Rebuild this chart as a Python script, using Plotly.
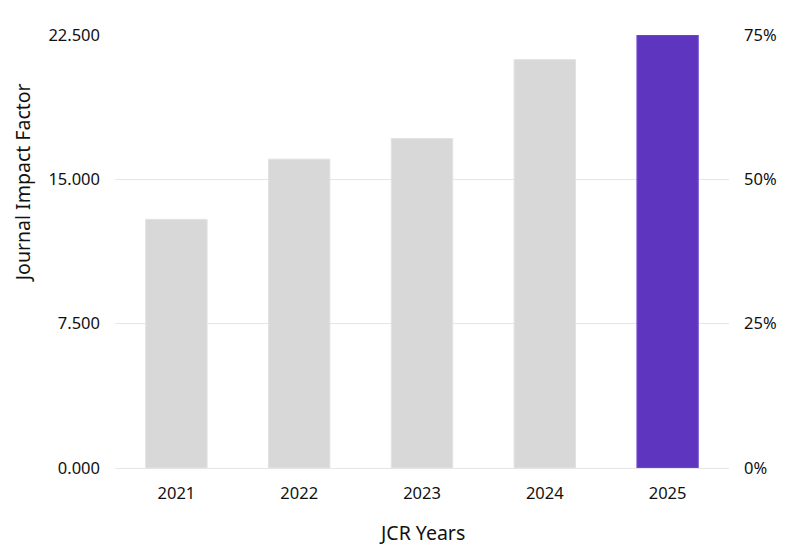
import plotly.graph_objects as go

years = ["2021", "2022", "2023", "2024", "2025"]
jif = [12.92, 16.05, 17.12, 21.22, 22.5]
bar_colors = ["#d8d8d8", "#d8d8d8", "#d8d8d8", "#d8d8d8", "#5e35bf"]
line_colors = ["#e2e2e2", "#e2e2e2", "#e2e2e2", "#e2e2e2", "#7a55d6"]
left_ticks = [0, 7.5, 15, 22.5]
right_ticks = [0, 0.25, 0.5, 0.75]

FONT = "Noto Sans"

fig = go.Figure()
fig.add_trace(go.Bar(
    x=years, y=jif, width=0.5,
    marker=dict(color=bar_colors, line=dict(color=line_colors, width=1)),
    showlegend=False, hoverinfo="x+y",
))
fig.add_trace(go.Scatter(
    x=years, y=[None] * len(years), yaxis="y2",
    showlegend=False, hoverinfo="skip", mode="markers",
))

fig.update_layout(
    width=794, height=551,
    margin=dict(l=115, r=65, t=35, b=83),
    paper_bgcolor="white", plot_bgcolor="white",
    font=dict(family=FONT, size=16.5, color="#111111"),
    bargap=0.5,
    xaxis=dict(
        showgrid=False, zeroline=False, showline=False,
        ticks="", ticklabelstandoff=13,
    ),
    yaxis=dict(
        range=[0, 22.5], tickvals=left_ticks, tickformat=".3f",
        showgrid=True, gridcolor="#e6e6e6", gridwidth=1,
        zeroline=True, zerolinecolor="#e6e6e6", zerolinewidth=1,
        showline=False, ticks="", ticklabelstandoff=14,
    ),
    yaxis2=dict(
        overlaying="y", side="right",
        range=[0, 0.75], tickvals=right_ticks, tickformat=".0%",
        showgrid=False, zeroline=False, showline=False,
        ticks="", ticklabelstandoff=14,
    ),
    annotations=[
        dict(text="Journal Impact Factor", textangle=-90, showarrow=False,
             xref="paper", yref="paper", x=-0.1515, y=0.66,
             xanchor="center", yanchor="middle",
             font=dict(size=19.5, color="#111111")),
        dict(text="JCR Years", showarrow=False,
             xref="paper", yref="paper", x=0.5, y=-0.150,
             xanchor="center", yanchor="middle",
             font=dict(size=19.5, color="#111111")),
    ],
)

fig.write_html("out.html")
